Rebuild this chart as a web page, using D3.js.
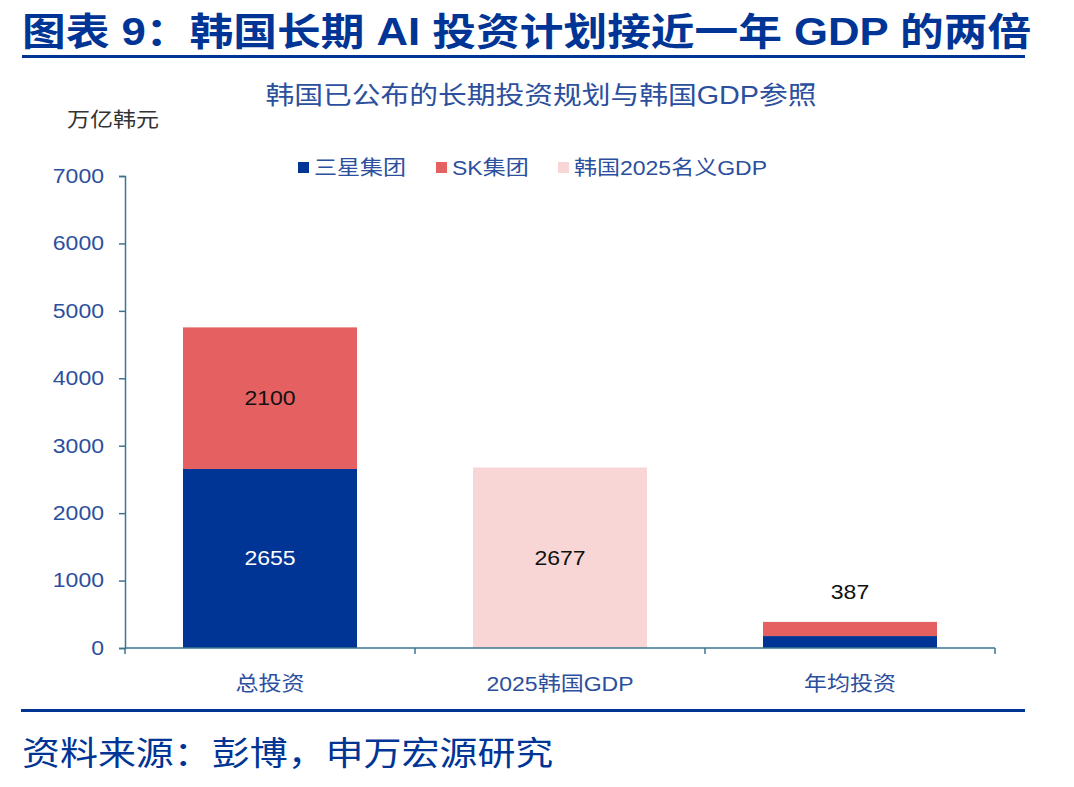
<!DOCTYPE html>
<html>
<head>
<meta charset="utf-8">
<script src="https://cdn.jsdelivr.net/npm/d3@7"></script>
<style>
  body { margin: 0; background: #fff; }
  svg text { font-family: "Liberation Sans", "Noto Sans CJK SC", sans-serif; }
</style>
</head>
<body>
<script>
// chart data
var categories = ['总投资', '2025韩国GDP', '年均投资'];
var seriesNames = ['三星集团', 'SK集团', '韩国2025名义GDP'];
var samsung = [2655, 0, 177];
var sk = [2100, 0, 210];
var gdp = [0, 2677, 0];
var yTicks = [0, 1000, 2000, 3000, 4000, 5000, 6000, 7000];
var colors = ['#003595', '#e56060', '#f8d6d6'];

var width = 1074, height = 787;
var svg = d3.select('body').append('svg')
    .attr('width', width)
    .attr('height', height);

// header
svg.append('text')
    .attr('x', 22).attr('y', 45)
    .attr('font-size', 38).attr('font-weight', 'bold')
    .attr('fill', '#003595')
    .text('图表 9：韩国长期 AI 投资计划接近一年 GDP 的两倍');
svg.append('rect').attr('x', 22).attr('y', 55).attr('width', 1003).attr('height', 3).attr('fill', '#003595');

svg.append('text')
    .attr('x', 541).attr('y', 104)
    .attr('text-anchor', 'middle')
    .attr('font-size', 25).attr('fill', '#2c4f9e')
    .text('韩国已公布的长期投资规划与韩国GDP参照');

svg.append('text')
    .attr('x', 67).attr('y', 127)
    .attr('font-size', 20).attr('fill', '#333')
    .text('万亿韩元');

// scales
var x = d3.scaleBand().domain(categories).range([125, 995]).paddingInner(0.4).paddingOuter(0.2);
var y = d3.scaleLinear().domain([0, 7000]).range([648, 176]);

var rows = categories.map(function (c, i) {
    return { cat: c, s0: samsung[i], s1: sk[i], s2: gdp[i] };
});
var stack = d3.stack().keys(['s0', 's1', 's2'])(rows);

svg.selectAll('g.layer')
    .data(stack)
    .enter().append('g')
    .attr('fill', function (d, i) { return colors[i]; })
    .selectAll('rect')
    .data(function (d) { return d; })
    .enter().append('rect')
    .attr('x', function (d) { return x(d.data.cat); })
    .attr('width', x.bandwidth())
    .attr('y', function (d) { return y(d[1]); })
    .attr('height', function (d) { return y(d[0]) - y(d[1]); });

// value labels
var lbl = svg.append('g').attr('font-size', 20).attr('text-anchor', 'middle');
var cx = function (i) { return x(categories[i]) + x.bandwidth() / 2; };
lbl.append('text').attr('x', cx(0)).attr('y', y(samsung[0] / 2) + 7).attr('fill', '#fff').text(samsung[0]);
lbl.append('text').attr('x', cx(0)).attr('y', y(samsung[0] + sk[0] / 2) + 7).attr('fill', '#111').text(sk[0]);
lbl.append('text').attr('x', cx(1)).attr('y', y(gdp[1] / 2) + 7).attr('fill', '#111').text(gdp[1]);
lbl.append('text').attr('x', cx(2)).attr('y', y(samsung[2] + sk[2]) - 23).attr('fill', '#111').text(samsung[2] + sk[2]);

// axes
var axisColor = '#3d7590';
var yAxis = svg.append('g')
    .attr('transform', 'translate(125,0)')
    .call(d3.axisLeft(y).tickValues(yTicks).tickFormat(d3.format('d')).tickSize(6).tickPadding(15));
yAxis.select('.domain').attr('stroke', axisColor).attr('stroke-width', 1.5);
yAxis.selectAll('.tick line').attr('stroke', axisColor).attr('stroke-width', 1.5);
yAxis.selectAll('.tick text').attr('font-size', 20).attr('fill', '#2c4f9e');

var bounds = [125, 125 + x.step(), 125 + 2 * x.step(), 995];
var xAxis = svg.append('g').attr('transform', 'translate(0,648)');
xAxis.append('line').attr('x1', 125).attr('x2', 995).attr('stroke', axisColor).attr('stroke-width', 1.5);
xAxis.selectAll('line.tk').data(bounds).enter().append('line')
    .attr('x1', function (d) { return d; }).attr('x2', function (d) { return d; })
    .attr('y1', 0).attr('y2', 6)
    .attr('stroke', axisColor).attr('stroke-width', 1.5);
xAxis.selectAll('text').data(categories).enter().append('text')
    .attr('x', function (d) { return x(d) + x.bandwidth() / 2; })
    .attr('y', 43)
    .attr('text-anchor', 'middle')
    .attr('font-size', 20).attr('fill', '#2c4f9e')
    .text(function (d) { return d; });

// legend
var legX = [298, 436, 558];
var leg = svg.selectAll('g.leg').data(seriesNames).enter().append('g')
    .attr('transform', function (d, i) { return 'translate(' + legX[i] + ',168)'; });
leg.append('rect').attr('x', 0).attr('y', -6).attr('width', 11).attr('height', 11)
    .attr('fill', function (d, i) { return colors[i]; });
leg.append('text').attr('x', 16).attr('y', 7).attr('font-size', 20).attr('fill', '#2c4f9e')
    .text(function (d) { return d; });

// footer
svg.append('rect').attr('x', 21).attr('y', 709).attr('width', 1004).attr('height', 3).attr('fill', '#003595');
svg.append('text')
    .attr('x', 22).attr('y', 765)
    .attr('font-size', 33).attr('fill', '#003595')
    .text('资料来源：彭博，申万宏源研究');

// the original picture is a bit wider than tall, stretch all text the same way
svg.selectAll('text').each(function () {
    var len = this.getComputedTextLength();
    d3.select(this).attr('textLength', len * 1.15).attr('lengthAdjust', 'spacingAndGlyphs');
});
</script>
</body>
</html>
